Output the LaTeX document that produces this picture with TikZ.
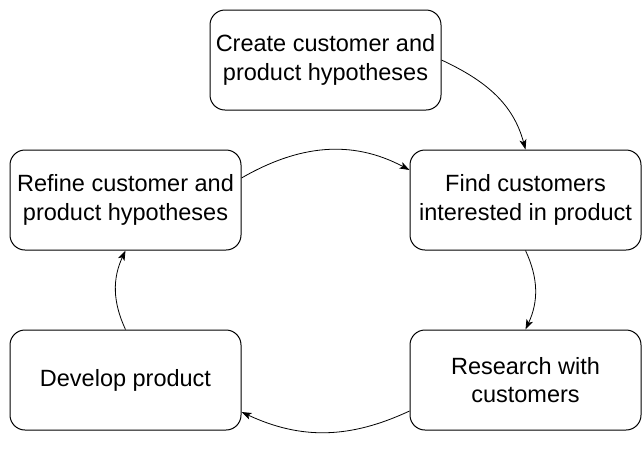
\documentclass[tikz,border=0pt]{standalone}
\usepackage{fontspec}
\setmainfont{Liberation Sans}
\usetikzlibrary{arrows.meta}
\begin{document}
\begin{tikzpicture}[x=1pt,y=-1pt,
 box/.style={draw, line width=1pt, rounded corners=15pt, minimum width=231pt, minimum height=100pt, align=center, font=\fontsize{23.5}{28.5}\selectfont, inner sep=0pt},
 arr/.style={-{Stealth[length=10pt,width=7pt,inset=2.5pt]}, line width=0.8pt}]
\useasboundingbox (0,0) rectangle (642,448);
\node[box] (create) at (325.5,60) {Create customer and\\product hypotheses};
\node[box] (refine) at (125.5,200) {Refine customer and\\product hypotheses};
\node[box] (find) at (525.5,200) {Find customers\\interested in product};
\node[box] (develop) at (125.5,380) {Develop product};
\node[box] (research) at (525.5,380) {Research with\\customers};
\draw[arr] (create.east) to[out=-25, in=105] (find.north);
\draw[arr] ([yshift=22pt]refine.east) to[out=30, in=152] ([yshift=30pt]find.west);
\draw[arr] (find.south) to[out=-65, in=65] (research.north);
\draw[arr] ([yshift=-31pt]research.west) to[out=-155, in=-25] ([yshift=-32pt]develop.east);
\draw[arr] (develop.north) to[out=115, in=-115] (refine.south);
\end{tikzpicture}
\end{document}
